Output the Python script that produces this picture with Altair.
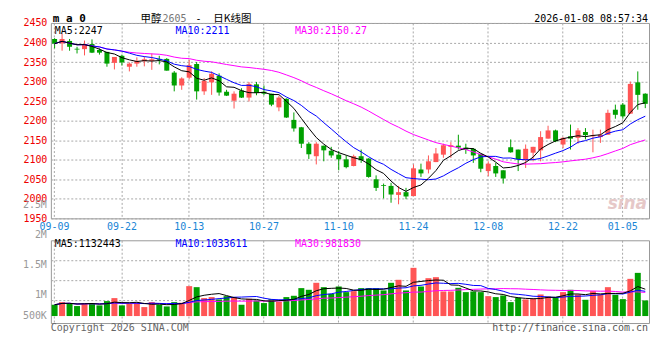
import altair as alt
import pandas as pd

# ---------------- data ----------------
dates = [
    "09-09", "09-10", "09-11", "09-12", "09-15", "09-16", "09-17", "09-18", "09-19", "09-22",
    "09-23", "09-24", "09-25", "09-26", "09-29", "09-30", "10-09", "10-10", "10-13", "10-14",
    "10-15", "10-16", "10-17", "10-20", "10-21", "10-22", "10-23", "10-24", "10-27", "10-28",
    "10-29", "10-30", "10-31", "11-03", "11-04", "11-05", "11-06", "11-07", "11-10", "11-11",
    "11-12", "11-13", "11-14", "11-17", "11-18", "11-19", "11-20", "11-21", "11-24", "11-25",
    "11-26", "11-27", "11-28", "12-01", "12-02", "12-03", "12-04", "12-05", "12-08", "12-09",
    "12-10", "12-11", "12-12", "12-15", "12-16", "12-17", "12-18", "12-19", "12-22", "12-23",
    "12-24", "12-25", "12-26", "12-29", "12-30", "12-31", "01-05", "01-06", "01-07", "01-08",
]
opens = [
    2409, 2398, 2404, 2384, 2383, 2396, 2381, 2376, 2348, 2366,
    2338, 2346, 2352, 2353, 2358, 2358, 2323, 2290, 2310, 2345,
    2275, 2298, 2315, 2274, 2251, 2277, 2259, 2293, 2274, 2269,
    2234, 2256, 2202, 2183, 2141, 2109, 2136, 2123, 2113, 2101,
    2084, 2109, 2103, 2050, 2035, 2033, 2010, 2017, 2007, 2075,
    2075, 2094, 2113, 2133, 2136, 2131, 2128, 2115, 2071, 2084,
    2073, 2132, 2126, 2099, 2118, 2124, 2154, 2175, 2139, 2160,
    2156, 2171, 2160, 2158, 2164, 2228, 2241, 2218, 2298, 2269,
]
highs = [
    2411, 2423, 2409, 2389, 2405, 2408, 2385, 2376, 2363, 2369,
    2349, 2362, 2364, 2372, 2366, 2360, 2327, 2311, 2356, 2350,
    2309, 2326, 2321, 2279, 2275, 2283, 2299, 2299, 2290, 2269,
    2264, 2257, 2221, 2184, 2145, 2145, 2136, 2133, 2122, 2111,
    2113, 2126, 2104, 2060, 2039, 2041, 2033, 2028, 2088, 2090,
    2111, 2130, 2141, 2145, 2164, 2141, 2130, 2115, 2096, 2092,
    2073, 2152, 2126, 2139, 2133, 2173, 2187, 2177, 2158, 2190,
    2181, 2181, 2177, 2177, 2228, 2241, 2245, 2300, 2326, 2270,
]
lows = [
    2385, 2379, 2379, 2372, 2367, 2373, 2369, 2338, 2331, 2341,
    2326, 2338, 2339, 2330, 2344, 2328, 2275, 2279, 2306, 2254,
    2266, 2266, 2264, 2263, 2231, 2258, 2249, 2265, 2265, 2237,
    2224, 2207, 2172, 2130, 2102, 2088, 2096, 2105, 2073, 2078,
    2083, 2092, 2054, 2020, 2001, 1990, 1986, 1999, 2007, 2056,
    2065, 2094, 2105, 2105, 2126, 2115, 2092, 2068, 2058, 2056,
    2039, 2118, 2071, 2079, 2096, 2096, 2154, 2145, 2130, 2126,
    2141, 2152, 2119, 2143, 2164, 2205, 2205, 2217, 2228, 2232,
]
closes = [
    2397, 2409, 2389, 2382, 2396, 2374, 2374, 2346, 2363, 2349,
    2346, 2353, 2357, 2357, 2356, 2328, 2290, 2308, 2342, 2275,
    2302, 2320, 2272, 2264, 2269, 2259, 2294, 2271, 2269, 2241,
    2259, 2208, 2180, 2141, 2114, 2141, 2124, 2111, 2101, 2081,
    2109, 2099, 2056, 2028, 2033, 2011, 2017, 2006, 2078, 2065,
    2096, 2116, 2137, 2137, 2131, 2126, 2111, 2077, 2090, 2065,
    2052, 2119, 2101, 2128, 2133, 2158, 2175, 2147, 2156, 2154,
    2175, 2163, 2163, 2164, 2220, 2215, 2211, 2294, 2266, 2243,
]
volumes = [
    839000, 883000, 867000, 817000, 867000, 867000, 828000, 900000, 950000, 828000,
    856000, 867000, 800000, 883000, 839000, 811000, 883000, 872000, 1150000, 1133000,
    950000, 967000, 928000, 983000, 967000, 839000, 939000, 911000, 867000, 933000,
    889000, 967000, 989000, 1117000, 1089000, 1206000, 1133000, 1022000, 1144000, 1050000,
    1067000, 1117000, 1117000, 1117000, 1078000, 1206000, 1256000, 1078000, 1456000, 1144000,
    1283000, 1300000, 1061000, 1061000, 1122000, 1050000, 1061000, 1050000, 983000, 967000,
    994000, 883000, 956000, 928000, 939000, 1011000, 978000, 967000, 1050000, 1089000,
    1011000, 922000, 1067000, 1011000, 1133000, 1006000, 933000, 1272000, 1372000, 911000,
]

x_label_dates = ["09-09", "09-22", "10-13", "10-27", "11-10", "11-24", "12-08", "12-22", "01-05"]
price_ticks = [1950, 2000, 2050, 2100, 2150, 2200, 2250, 2300, 2350, 2400, 2450]
vol_label_text = ["2.5M", "2M", "1.5M", "1M", "500K"]
vol_label_value = [2500000, 2000000, 1500000, 1000000, 650000]
vol_grid_values = [916667, 1250000, 1583333]

# ---------------- styling ----------------
MONO = "DejaVu Sans Mono"
CJK = "Noto Sans CJK SC"
UP = "#ff5555"
DOWN = "#00a000"
GRID = "#a8a8a8"
VOL_BASE = 650000

df = pd.DataFrame({
    "idx": list(range(len(dates))),
    "date": dates,
    "open": opens,
    "high": highs,
    "low": lows,
    "close": closes,
    "volume": volumes,
})
df["dir"] = ["up" if c > o else "down" for o, c in zip(opens, closes)]
df["vbase"] = VOL_BASE

color = alt.Color("dir:N", scale=alt.Scale(domain=["up", "down"], range=[UP, DOWN]), legend=None)
xscale = alt.Scale(type="band", domain=dates, paddingInner=0, paddingOuter=0)


def x_enc(show_labels):
    return alt.X(
        "date:O", scale=xscale, title=None,
        axis=alt.Axis(values=x_label_dates, labels=show_labels, labelAngle=0,
                      labelColor="#1a86d6", labelFont=MONO, labelFontSize=10,
                      labelPadding=3, ticks=False, domain=False, grid=True,
                      gridColor=GRID, gridDash=[2, 2], bandPosition=0.5),
    )


pscale = alt.Scale(domain=[1950, 2450], nice=False, zero=False)
paxis = alt.Axis(values=price_ticks, format="d", labelColor="#ee0000", labelFont=MONO,
                 labelFontSize=10, labelPadding=4, ticks=False, domain=False, grid=True,
                 gridColor=GRID, gridDash=[2, 2], labelFlush=False, title=None)

one = alt.Data(values=[{"k": 1}])


def txt(text, x, y, color, size=10, align="left", font=MONO, weight="normal", style="normal"):
    return alt.Chart(one).mark_text(
        text=text, x=x, y=y, align=align, baseline="alphabetic", color=color,
        font=font, fontSize=size, fontWeight=weight, fontStyle=style)


base = alt.Chart(df)
wicks = base.mark_rule(strokeWidth=1).encode(
    x=x_enc(True), y=alt.Y("low:Q", scale=pscale, axis=paxis), y2="high:Q", color=color)
bodies = base.mark_bar(size=5).encode(
    x=x_enc(True), y=alt.Y("open:Q", scale=pscale, axis=paxis), y2="close:Q", color=color)


def ma_line(field, n, name, col, scale, axis):
    return base.transform_window(
        **{name: f"mean({field})"}, frame=[-(n - 1), 0], sort=[alt.SortField("idx")]
    ).mark_line(color=col, strokeWidth=1).encode(
        x=x_enc(True), y=alt.Y(f"{name}:Q", scale=scale, axis=axis), order="idx:Q")


price = alt.layer(
    wicks, bodies,
    ma_line("close", 30, "ma30", "#ff00ff", pscale, paxis),
    ma_line("close", 10, "ma10", "#0000ff", pscale, paxis),
    ma_line("close", 5, "ma5", "#000000", pscale, paxis),
    txt("MA5:2247", 4, 11.5, "#000000"),
    txt("MA10:2211", 125, 11.5, "#0000ff"),
    txt("MA30:2150.27", 245, 11.5, "#ff00ff"),
    txt("m a 0", 2, -1, "#000000", size=11, weight="bold"),
    txt("甲醇", 90, -1, "#000000", size=10.5, font=CJK),
    txt("2605", 112, -1, "#777777"),
    txt("-", 148, -1, "#000000", align="center"),
    txt("日K线图", 163, -1, "#000000", size=10.5, font=CJK),
    txt("2026-01-08 08:57:34", 599, -1, "#000000", align="right"),
    txt("sina", 598, 187, "#e6c8c8", size=17, font="DejaVu Sans", weight="bold", style="italic",
        align="right"),
).properties(width=600, height=196)

vscale = alt.Scale(domain=[533333, 1916667], nice=False, zero=False)
vaxis = alt.Axis(values=vol_grid_values, labels=False, ticks=False, domain=False, grid=True,
                 gridColor=GRID, gridDash=[2, 2], title=None)

vbars = base.mark_bar(size=6).encode(
    x=x_enc(False), y=alt.Y("volume:Q", scale=vscale, axis=vaxis), y2="vbase:Q", color=color)

vlabels = alt.Chart(pd.DataFrame({"t": vol_label_text, "v": vol_label_value})).mark_text(
    x=-4, align="right", baseline="middle", font=MONO, fontSize=10, color="#999999"
).encode(y=alt.Y("v:Q", scale=vscale, axis=vaxis), text="t:N")

volume = alt.layer(
    vbars,
    ma_line("volume", 30, "vma30", "#ff00ff", vscale, vaxis),
    ma_line("volume", 10, "vma10", "#0000ff", vscale, vaxis),
    ma_line("volume", 5, "vma5", "#000000", vscale, vaxis),
    vlabels,
    txt("MA5:1132443", 4, 7, "#000000"),
    txt("MA10:1033611", 125, 7, "#0000ff"),
    txt("MA30:981830", 245, 7, "#ff00ff"),
    txt("Copyright 2026 SINA.COM", 0, 91, "#666666"),
    txt("http://finance.sina.com.cn", 599, 91, "#555555", align="right"),
).properties(width=600, height=83)

chart = alt.vconcat(price, volume, spacing=22, bounds="flush").properties(
    padding={"left": 14, "top": 3.5, "right": 2, "bottom": 0}
).configure_view(stroke="#999999", strokeWidth=1)

chart.save("out.html", embed_options={"renderer": "svg", "actions": False})
